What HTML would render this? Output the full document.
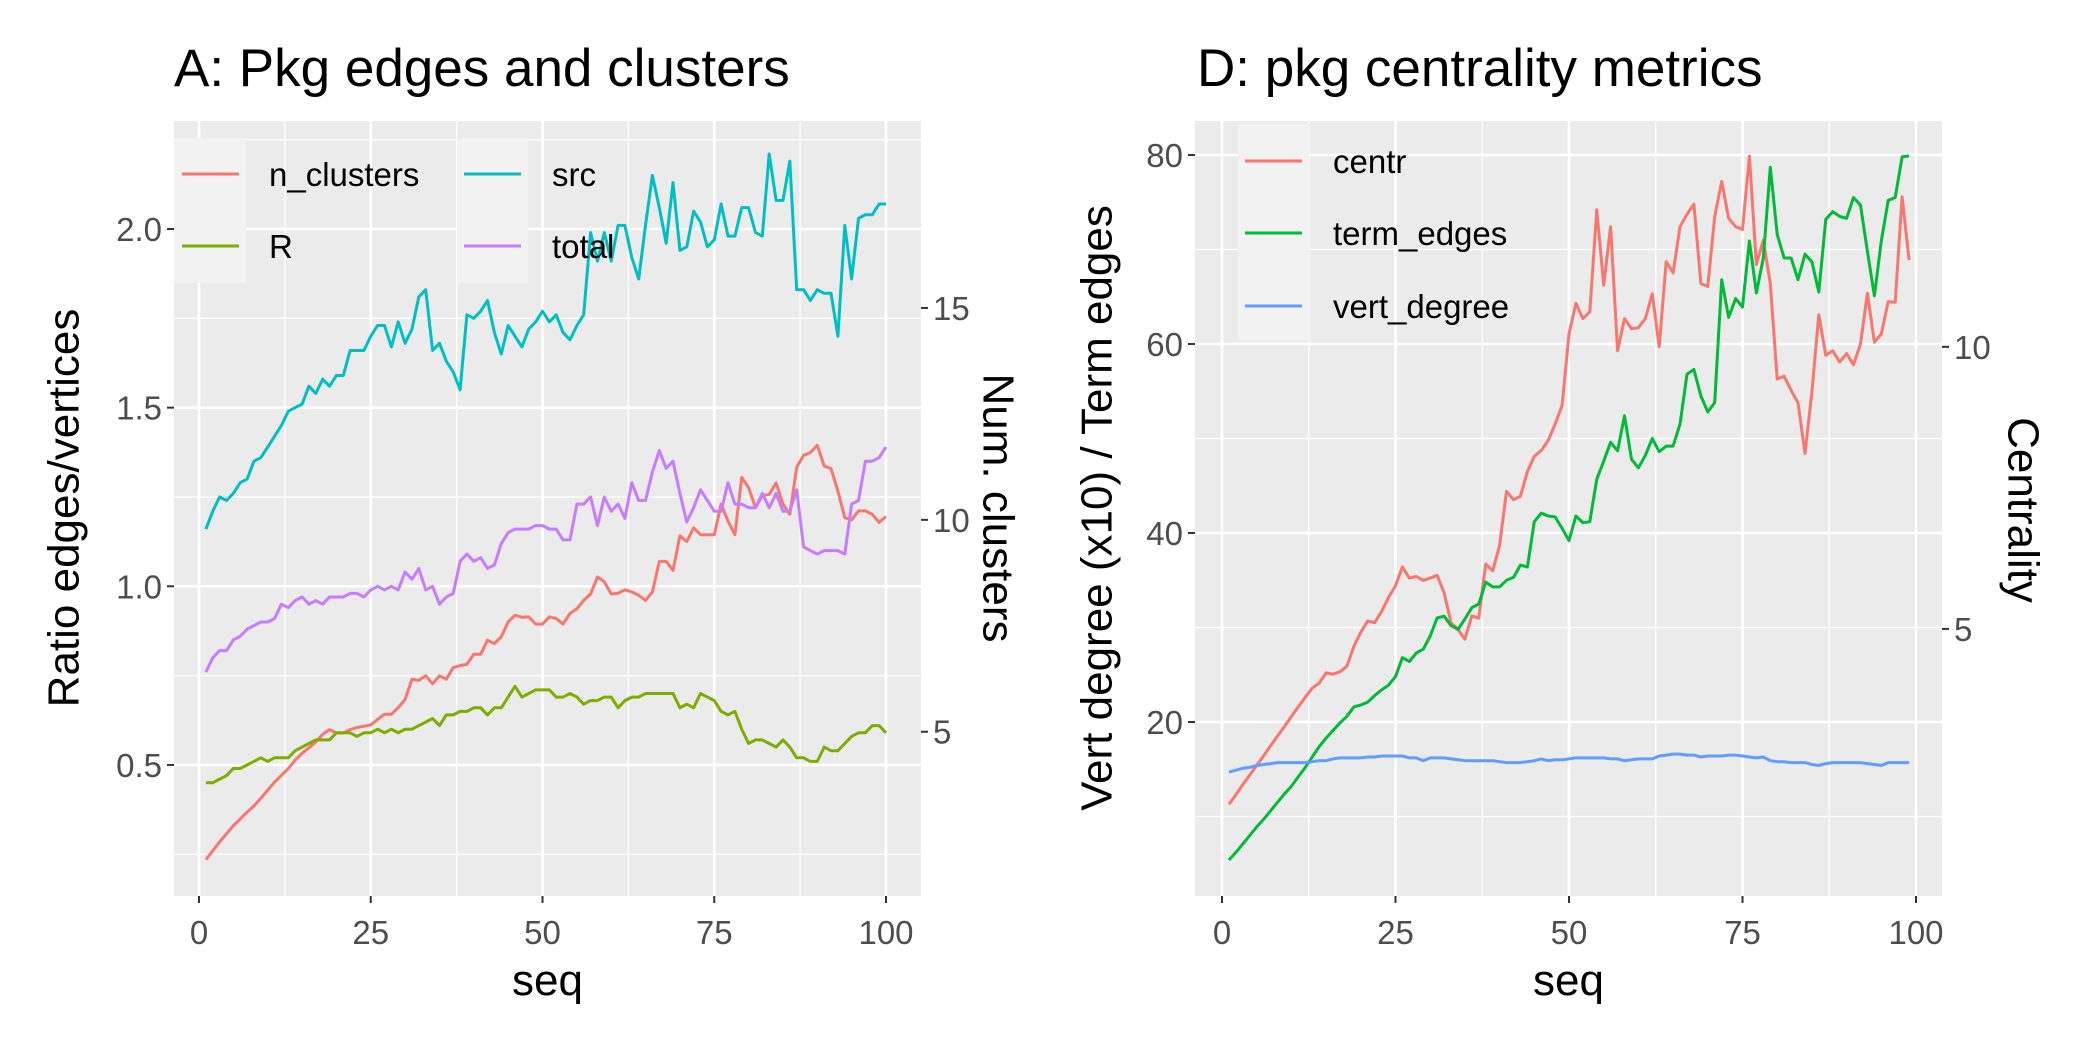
<!DOCTYPE html>
<html><head><meta charset="utf-8"><style>
html,body{margin:0;padding:0;background:#fff}
svg{display:block;font-family:"Liberation Sans",Arial,sans-serif}
</style></head><body>
<svg id="chart" width="2100" height="1050" viewBox="0 0 2100 1050" xmlns="http://www.w3.org/2000/svg"></svg>
<script>
// ---------- Panel A data ----------
const seqA = Array.from({length:100},(_,i)=>i+1);
const srcA = [1.16,1.21,1.25,1.24,1.26,1.29,1.30,1.35,1.36,1.39,1.42,1.45,1.49,1.50,1.51,1.56,1.54,1.58,1.56,1.59,1.59,1.66,1.66,1.66,1.70,1.73,1.73,1.67,1.74,1.68,1.72,1.81,1.83,1.66,1.68,1.63,1.60,1.55,1.76,1.75,1.77,1.80,1.71,1.65,1.73,1.70,1.67,1.72,1.74,1.77,1.74,1.76,1.71,1.69,1.73,1.76,1.99,1.91,1.99,1.91,2.01,2.01,1.92,1.86,2.01,2.15,2.06,1.96,2.13,1.94,1.95,2.05,2.02,1.95,1.97,2.07,1.98,1.98,2.06,2.06,1.99,1.98,2.21,2.08,2.08,2.19,1.83,1.83,1.80,1.83,1.82,1.82,1.70,2.01,1.86,2.03,2.04,2.04,2.07,2.07];
const totalA = [0.76,0.80,0.82,0.82,0.85,0.86,0.88,0.89,0.90,0.90,0.91,0.95,0.94,0.96,0.97,0.95,0.96,0.95,0.97,0.97,0.97,0.98,0.98,0.97,0.99,1.00,0.99,1.00,0.99,1.04,1.02,1.05,0.99,1.00,0.95,0.97,0.98,1.07,1.09,1.07,1.08,1.05,1.06,1.12,1.15,1.16,1.16,1.16,1.17,1.17,1.16,1.16,1.13,1.13,1.23,1.23,1.25,1.17,1.25,1.21,1.23,1.19,1.29,1.24,1.24,1.32,1.38,1.33,1.35,1.26,1.18,1.22,1.27,1.24,1.21,1.21,1.29,1.23,1.23,1.22,1.22,1.26,1.22,1.26,1.21,1.21,1.27,1.11,1.10,1.09,1.10,1.10,1.10,1.09,1.23,1.24,1.35,1.35,1.36,1.39];
const rA = [0.45,0.45,0.46,0.47,0.49,0.49,0.50,0.51,0.52,0.51,0.52,0.52,0.52,0.54,0.55,0.56,0.57,0.57,0.57,0.59,0.59,0.59,0.58,0.59,0.59,0.60,0.59,0.60,0.59,0.60,0.60,0.61,0.62,0.63,0.61,0.64,0.64,0.65,0.65,0.66,0.66,0.64,0.66,0.66,0.69,0.72,0.69,0.70,0.71,0.71,0.71,0.69,0.69,0.70,0.69,0.67,0.68,0.68,0.69,0.69,0.66,0.68,0.69,0.69,0.70,0.70,0.70,0.70,0.70,0.66,0.67,0.66,0.70,0.69,0.68,0.65,0.64,0.65,0.60,0.56,0.57,0.57,0.56,0.55,0.57,0.55,0.52,0.52,0.51,0.51,0.55,0.54,0.54,0.56,0.58,0.59,0.59,0.61,0.61,0.59];
const nClustersA = [1.98,2.19,2.40,2.59,2.78,2.94,3.10,3.25,3.43,3.62,3.81,3.97,4.13,4.33,4.49,4.62,4.76,4.94,5.05,4.97,4.97,5.05,5.10,5.13,5.16,5.29,5.41,5.41,5.57,5.76,6.24,6.21,6.32,6.13,6.32,6.24,6.51,6.56,6.59,6.83,6.83,7.16,7.08,7.24,7.59,7.75,7.70,7.71,7.54,7.54,7.71,7.67,7.54,7.79,7.90,8.10,8.25,8.65,8.54,8.25,8.27,8.35,8.30,8.22,8.10,8.30,9.02,9.02,8.81,9.62,9.49,9.81,9.65,9.65,9.65,10.37,9.97,9.65,11.00,10.76,10.29,10.57,10.60,10.87,10.37,10.13,11.24,11.52,11.59,11.76,11.27,11.21,10.68,10.05,10.00,10.21,10.21,10.13,9.94,10.08];
const xTicksA = [0,25,50,75,100];
const yTicksA = [0.5,1.0,1.5,2.0];
const yTickLabelsA = ["0.5","1.0","1.5","2.0"];
const y2TicksA = [5,10,15];
const clusterScaleA = 0.1186;

// ---------- Panel D data ----------
const seqD = Array.from({length:99},(_,i)=>i+1);
const centrD = [1.89,2.06,2.24,2.41,2.58,2.75,2.93,3.10,3.27,3.45,3.62,3.79,3.95,4.04,4.22,4.20,4.24,4.34,4.69,4.94,5.14,5.11,5.31,5.56,5.76,6.10,5.90,5.93,5.86,5.90,5.95,5.64,5.11,4.99,4.82,5.23,5.19,6.15,6.03,6.48,7.44,7.29,7.35,7.79,8.06,8.16,8.34,8.63,8.96,10.23,10.77,10.50,10.62,12.43,11.09,12.13,9.93,10.50,10.32,10.34,10.50,10.94,10.00,11.51,11.31,12.13,12.35,12.53,11.12,11.07,12.31,12.93,12.28,12.13,12.08,13.38,11.46,11.89,11.12,9.43,9.48,9.23,9.01,8.11,9.20,10.57,9.85,9.93,9.73,9.88,9.68,10.05,10.95,10.08,10.23,10.80,10.79,12.66,11.54];
const termEdgesD = [5.4,6.2,7.1,8.0,8.9,9.7,10.6,11.5,12.4,13.2,14.2,15.2,16.3,17.4,18.3,19.1,19.9,20.6,21.6,21.8,22.1,22.8,23.4,23.9,24.8,26.8,26.4,27.3,27.7,29.1,31.0,31.2,30.2,29.8,30.9,32.1,32.5,34.8,34.3,34.3,35.0,35.3,36.6,36.4,41.2,42.1,41.8,41.7,40.5,39.2,41.8,41.1,41.2,45.7,47.6,49.6,48.7,52.4,47.8,46.9,48.2,50.0,48.6,49.2,49.2,51.5,56.8,57.3,54.5,52.8,53.8,66.8,62.8,64.8,63.9,70.9,65.4,69.1,78.7,71.6,69.1,69.1,66.8,69.5,68.7,65.5,73.2,74.0,73.5,73.3,75.5,74.7,69.8,65.1,70.9,75.2,75.5,79.8,79.9];
const vertDegreeD = [14.7,14.9,15.1,15.2,15.4,15.5,15.6,15.7,15.7,15.7,15.7,15.7,15.8,15.9,15.9,16.1,16.2,16.2,16.2,16.2,16.3,16.3,16.4,16.4,16.4,16.4,16.2,16.2,15.9,16.2,16.2,16.2,16.1,16.0,15.9,15.9,15.9,15.9,15.9,15.8,15.7,15.7,15.7,15.8,15.9,16.1,15.9,16.0,16.0,16.1,16.2,16.2,16.2,16.2,16.2,16.1,16.1,15.9,16.0,16.1,16.1,16.1,16.4,16.5,16.6,16.6,16.5,16.5,16.3,16.4,16.4,16.4,16.5,16.5,16.4,16.3,16.2,16.3,15.9,15.8,15.8,15.7,15.7,15.7,15.5,15.4,15.6,15.7,15.7,15.7,15.7,15.7,15.6,15.5,15.4,15.7,15.7,15.7,15.7];
const xTicksD = [0,25,50,75,100];
const yTicksD = [20,40,60,80];
const y2TicksD = [5,10];
const centrScaleD = 5.97;

const NS = "http://www.w3.org/2000/svg";
const svg = document.getElementById('chart');
function mk(tag, attrs, parent){
  const e = document.createElementNS(NS, tag);
  for (const k in attrs) e.setAttribute(k, attrs[k]);
  (parent||svg).appendChild(e);
  return e;
}
function txt(s, attrs, parent){ const t = mk('text', attrs, parent); t.textContent = s; return t; }

// ---------- Panel A ----------
const A = {x0:174, x1:921, y0:121, y1:896};
const xA = s => 199 + s*6.87;
const yA = r => 229 + (2.0 - r)*357.3;
const gA = mk('g', {});


const bgA = mk('rect', {x:A.x0, y:A.y0, width:A.x1-A.x0, height:A.y1-A.y0, fill:'#EBEBEB'}, gA);


[0.25,0.75,1.25,1.75,2.25].forEach(v=>{ mk('line',{x1:A.x0,x2:A.x1,y1:yA(v),y2:yA(v),stroke:'#fff','stroke-width':1.3},gA); });
[12.5,37.5,62.5,87.5].forEach(v=>{ mk('line',{x1:xA(v),x2:xA(v),y1:A.y0,y2:A.y1,stroke:'#fff','stroke-width':1.3},gA); });
yTicksA.forEach(v=>{ mk('line',{x1:A.x0,x2:A.x1,y1:yA(v),y2:yA(v),stroke:'#fff','stroke-width':2.6},gA); });
xTicksA.forEach(v=>{ mk('line',{x1:xA(v),x2:xA(v),y1:A.y0,y2:A.y1,stroke:'#fff','stroke-width':2.6},gA); });

function series(g, xs, ys, xf, yf, color, name){
  const d = xs.map((s,i)=>(i?'L':'M')+xf(s).toFixed(1)+','+yf(ys[i]).toFixed(1)).join(' ');
  const p = mk('path', {d:d, fill:'none', stroke:color, 'stroke-width':3, 'stroke-linejoin':'round'}, g);
  
  
}
series(gA, seqA, nClustersA, xA, c=>yA(c*clusterScaleA), '#F8766D', 'line-n-clusters');
series(gA, seqA, rA, xA, yA, '#7CAE00', 'line-r');
series(gA, seqA, srcA, xA, yA, '#00BFC4', 'line-src');
series(gA, seqA, totalA, xA, yA, '#C77CFF', 'line-total');

// legend A
const legA = mk('g', {}, gA);


mk('rect',{x:174,y:138,width:72,height:145,fill:'#F2F2F2'},legA);
mk('rect',{x:457,y:138,width:71,height:145,fill:'#F2F2F2'},legA);
const legItemsA = [['n_clusters','#F8766D',182,174,269],['R','#7CAE00',182,246,269],['src','#00BFC4',464,174,552],['total','#C77CFF',464,246,552]];
legItemsA.forEach(it=>{
  const g = mk('g',{},legA);
  
  
  mk('line',{x1:it[2],x2:it[2]+57,y1:it[3],y2:it[3],stroke:it[1],'stroke-width':3},g);
  txt(it[0],{x:it[4],y:it[3]+12,'font-size':33,fill:'#000'},g);
});

// axes A
xTicksA.forEach(v=>{
  mk('line',{x1:xA(v),x2:xA(v),y1:A.y1,y2:A.y1+7,stroke:'#333','stroke-width':2},gA);
  const t = txt(String(v),{x:xA(v),y:944,'font-size':33,fill:'#4D4D4D','text-anchor':'middle'},gA);
  
  
});
yTicksA.forEach((v,i)=>{
  mk('line',{x1:A.x0-7,x2:A.x0,y1:yA(v),y2:yA(v),stroke:'#333','stroke-width':2},gA);
  const t = txt(yTickLabelsA[i],{x:A.x0-12,y:yA(v)+12,'font-size':33,fill:'#4D4D4D','text-anchor':'end'},gA);
  
  
});
y2TicksA.forEach(v=>{
  const yy = yA(v*clusterScaleA);
  mk('line',{x1:A.x1,x2:A.x1+7,y1:yy,y2:yy,stroke:'#333','stroke-width':2},gA);
  const t = txt(String(v),{x:A.x1+12,y:yy+12,'font-size':33,fill:'#4D4D4D'},gA);
  
  
});
const tA = txt('A: Pkg edges and clusters',{x:174,y:86,'font-size':53,fill:'#000'},gA);


const xtA = txt('seq',{x:(A.x0+A.x1)/2,y:995,'font-size':44,fill:'#000','text-anchor':'middle'},gA);


const ytA = txt('Ratio edges/vertices',{x:0,y:0,'font-size':44,fill:'#000','text-anchor':'middle','dominant-baseline':'central',transform:'translate(64,508) rotate(-90)'},gA);


const y2tA = txt('Num. clusters',{x:0,y:0,'font-size':44,fill:'#000','text-anchor':'middle','dominant-baseline':'central',transform:'translate(998,508) rotate(90)'},gA);



// ---------- Panel D ----------
const D = {x0:1195, x1:1942, y0:121, y1:896};
const xD = s => 1222 + s*6.94;
const yD = v => 155 + (80 - v)*9.45;
const gD = mk('g', {});


const bgD = mk('rect', {x:D.x0, y:D.y0, width:D.x1-D.x0, height:D.y1-D.y0, fill:'#EBEBEB'}, gD);


[10,30,50,70].forEach(v=>{ mk('line',{x1:D.x0,x2:D.x1,y1:yD(v),y2:yD(v),stroke:'#fff','stroke-width':1.3},gD); });
[12.5,37.5,62.5,87.5].forEach(v=>{ mk('line',{x1:xD(v),x2:xD(v),y1:D.y0,y2:D.y1,stroke:'#fff','stroke-width':1.3},gD); });
yTicksD.forEach(v=>{ mk('line',{x1:D.x0,x2:D.x1,y1:yD(v),y2:yD(v),stroke:'#fff','stroke-width':2.6},gD); });
xTicksD.forEach(v=>{ mk('line',{x1:xD(v),x2:xD(v),y1:D.y0,y2:D.y1,stroke:'#fff','stroke-width':2.6},gD); });

series(gD, seqD, centrD, xD, c=>yD(c*centrScaleD), '#F8766D', 'line-centr');
series(gD, seqD, termEdgesD, xD, yD, '#00BA38', 'line-term-edges');
series(gD, seqD, vertDegreeD, xD, yD, '#619CFF', 'line-vert-degree');

const legD = mk('g', {}, gD);


mk('rect',{x:1238,y:124,width:71,height:216,fill:'#F2F2F2'},legD);
const legItemsD = [['centr','#F8766D',161],['term_edges','#00BA38',233],['vert_degree','#619CFF',306]];
legItemsD.forEach(it=>{
  const g = mk('g',{},legD);
  
  
  mk('line',{x1:1245,x2:1302,y1:it[2],y2:it[2],stroke:it[1],'stroke-width':3},g);
  txt(it[0],{x:1333,y:it[2]+12,'font-size':33,fill:'#000'},g);
});

xTicksD.forEach(v=>{
  mk('line',{x1:xD(v),x2:xD(v),y1:D.y1,y2:D.y1+7,stroke:'#333','stroke-width':2},gD);
  const t = txt(String(v),{x:xD(v),y:944,'font-size':33,fill:'#4D4D4D','text-anchor':'middle'},gD);
  
  
});
yTicksD.forEach(v=>{
  mk('line',{x1:D.x0-7,x2:D.x0,y1:yD(v),y2:yD(v),stroke:'#333','stroke-width':2},gD);
  const t = txt(String(v),{x:D.x0-12,y:yD(v)+12,'font-size':33,fill:'#4D4D4D','text-anchor':'end'},gD);
  
  
});
y2TicksD.forEach(v=>{
  const yy = yD(v*centrScaleD);
  mk('line',{x1:D.x1,x2:D.x1+7,y1:yy,y2:yy,stroke:'#333','stroke-width':2},gD);
  const t = txt(String(v),{x:D.x1+12,y:yy+12,'font-size':33,fill:'#4D4D4D'},gD);
  
  
});
const tD = txt('D: pkg centrality metrics',{x:1197,y:86,'font-size':53,fill:'#000'},gD);


const xtD = txt('seq',{x:(D.x0+D.x1)/2,y:995,'font-size':44,fill:'#000','text-anchor':'middle'},gD);


const ytD = txt('Vert degree (x10) / Term edges',{x:0,y:0,'font-size':44,fill:'#000','text-anchor':'middle','dominant-baseline':'central',transform:'translate(1097,508) rotate(-90)'},gD);


const y2tD = txt('Centrality',{x:0,y:0,'font-size':44,fill:'#000','text-anchor':'middle','dominant-baseline':'central',transform:'translate(2023,510) rotate(90)'},gD);


</script>
</body></html>
